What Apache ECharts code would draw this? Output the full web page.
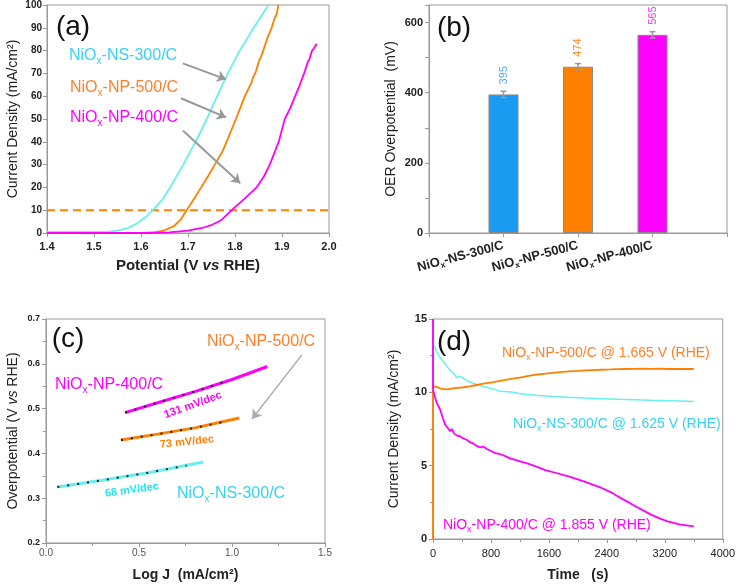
<!DOCTYPE html>
<html>
<head>
<meta charset="utf-8">
<script src="https://cdn.jsdelivr.net/npm/echarts@6.0.0/dist/echarts.min.js"></script>
<style>
html, body { margin: 0; padding: 0; background: #fff; }
#chart { width: 738px; height: 584px; }
</style>
</head>
<body>
<div id="chart"></div>
<script>
// (a) polarisation curves: [potential V vs RHE, current mA/cm2]
var lsvNS300 = [[1.40,0.5],[1.50,0.5],[1.53,0.6],[1.55,1.0],[1.57,2.0],[1.59,4.0],[1.61,7.0],[1.625,10],[1.645,14.5],[1.662,20],[1.69,30],[1.716,40],[1.74,50],[1.762,60],[1.785,70],[1.81,80],[1.84,90],[1.871,100]];
var lsvNP500 = [[1.40,0],[1.60,0],[1.63,0.4],[1.65,1.2],[1.67,3.0],[1.685,6],[1.697,10],[1.713,15],[1.728,20],[1.743,25],[1.757,30],[1.774,36],[1.782,40],[1.802,50],[1.821,60],[1.835,66],[1.838,68],[1.843,70],[1.852,76],[1.855,77],[1.86,80],[1.868,85],[1.878,90],[1.884,94],[1.889,96],[1.892,100]];
var lsvNP400 = [[1.40,0],[1.62,0],[1.66,0.3],[1.70,1.0],[1.73,2.2],[1.75,3.5],[1.77,5.5],[1.793,10],[1.82,15],[1.846,20],[1.862,25],[1.874,30],[1.893,40],[1.906,50],[1.918,55],[1.928,60],[1.938,65],[1.947,70],[1.955,75],[1.958,76],[1.964,80],[1.968,81],[1.974,83]];
var refLine = [[1.4,10],[2.0,10]];

// (b) overpotential at 10 mA/cm2
var samples = ['NS-300/C', 'NP-500/C', 'NP-400/C'];
var overpot = [395, 474, 565];
var overErr = [9, 9, 9];
var barColors = ['#1A9BF2', '#FF8000', '#FF00FF'];
var barLabelColors = ['#4AAEF2', '#FF8C2A', '#FF33FF'];

// (c) Tafel plots: [log J, overpotential V]
var tafelNP400 = [[0.425,0.491],[0.6,0.513],[0.8,0.538],[1.0,0.565],[1.19,0.594]];
var tafelNP400Pts = [[0.425,0.491],[0.6,0.513],[0.8,0.538],[0.99,0.564]];
var tafelNP500 = [[0.403,0.430],[0.6,0.443],[0.8,0.457],[1.04,0.479]];
var tafelNP500Pts = [[0.403,0.430],[0.6,0.443],[0.8,0.457],[0.95,0.470]];
var tafelNS300 = [[0.061,0.325],[0.3,0.340],[0.55,0.357],[0.846,0.381]];
var tafelNS300Pts = [[0.061,0.325],[0.3,0.340],[0.55,0.357],[0.756,0.373]];

// (d) chronoamperometry: [time s, current mA/cm2]
var caNP500 = [[0,0],[0,10.4],[60,10.35],[120,10.23],[200,10.2],[300,10.28],[400,10.33],[509,10.41],[600,10.5],[700,10.6],[830,10.7],[963,10.82],[1100,10.93],[1200,11.0],[1300,11.1],[1418,11.2],[1550,11.27],[1650,11.33],[1760,11.38],[1873,11.43],[2000,11.46],[2100,11.5],[2200,11.52],[2327,11.54],[2450,11.56],[2550,11.58],[2660,11.59],[2782,11.6],[2900,11.62],[3000,11.6],[3120,11.61],[3236,11.59],[3400,11.6],[3600,11.59]];
var caNS300 = [[0,13.3],[50,12.8],[100,12.35],[145,12.1],[220,11.6],[282,11.32],[327,11.0],[368,11.1],[420,10.95],[509,10.7],[620,10.5],[736,10.35],[850,10.2],[918,10.07],[1000,10.05],[1100,10.0],[1191,9.92],[1300,9.85],[1418,9.8],[1650,9.72],[1873,9.66],[2100,9.61],[2327,9.57],[2550,9.53],[2782,9.5],[3000,9.46],[3300,9.42],[3600,9.38]];
var caNP400 = [[0,15],[0,10.2],[20,9.8],[50,9.3],[100,8.8],[140,8.2],[168,7.8],[200,7.6],[236,7.35],[260,7.5],[290,7.2],[330,7.05],[372,7.0],[420,6.85],[470,6.75],[509,6.6],[560,6.5],[600,6.35],[650,6.25],[700,6.3],[736,6.15],[800,6.0],[860,5.85],[930,5.78],[1000,5.65],[1060,5.5],[1100,5.45],[1200,5.3],[1300,5.15],[1418,4.95],[1550,4.7],[1700,4.5],[1873,4.27],[2100,3.9],[2327,3.48],[2450,3.2],[2555,2.9],[2680,2.55],[2782,2.27],[2900,1.95],[3009,1.66],[3120,1.42],[3236,1.2],[3400,1.0],[3600,0.86]];

var FONT = 'Liberation Sans, Arial, sans-serif';
var CYAN = '#66F0F0', CYAN_T = '#36D2F0', ORANGE = '#FF8000', ORANGE_T = '#FF7F2A', MAGENTA = '#FF00FF';
var GREY = '#999999';

function subText(x, y, pre, post, color, size) {
    var s = Math.round(size * 0.62);
    return {
        type: 'text', x: x, y: y, z: 100,
        style: {
            text: '{a|' + pre + '}{s|x}{a|' + post + '}',
            verticalAlign: 'middle', align: 'left',
            rich: {
                a: {fontSize: size, fontFamily: FONT, fill: color, color: color, lineHeight: size + 4},
                s: {fontSize: s, fontFamily: FONT, fill: color, color: color, lineHeight: s, verticalAlign: 'bottom'}
            }
        }
    };
}
function plainText(x, y, txt, color, size, weight, rot) {
    return {
        type: 'text', x: x, y: y, rotation: (rot || 0) * Math.PI / 180, z: 100,
        style: {text: txt, fill: color, font: (weight || 'normal') + ' ' + size + 'px ' + FONT, align: 'center', verticalAlign: 'middle'}
    };
}

function axisBase(gi, min, max, step) {
    return {
        gridIndex: gi, type: 'value', min: min, max: max, interval: step,
        axisLine: {show: true, onZero: false, lineStyle: {color: GREY}},
        axisTick: {show: true, length: 4, lineStyle: {color: GREY}},
        splitLine: {show: false},
        nameLocation: 'middle'
    };
}

var xA = axisBase(0, 1.4, 2.0, 0.1);
xA.axisLabel = {color: '#222', fontWeight: 'bold', fontSize: 11, fontFamily: FONT, margin: 8, formatter: function (v) { return v.toFixed(1); }};
xA.name = 'Potential (V {i|vs} RHE)';
xA.nameGap = 25;
xA.nameTextStyle = {color: '#222', fontSize: 15, fontWeight: 'bold', fontFamily: FONT, rich: {i: {fontStyle: 'italic', fontWeight: 'bold', fontSize: 15, fontFamily: FONT, color: '#222'}}};

var yA = axisBase(0, 0, 100, 10);
yA.axisLabel = {color: '#222', fontWeight: 'bold', fontSize: 10, fontFamily: FONT, margin: 5};
yA.name = 'Current Density (mA/cm\u00B2)';
yA.nameGap = 27;
yA.nameTextStyle = {color: '#222', fontSize: 14, fontFamily: FONT};

var xB = axisBase(1, 0, 4, 1);
xB.axisLabel = {
    rotate: 15, margin: 12, interval: 0,
    formatter: function (v) { return (v >= 1 && v <= 3) ? '{a|NiO}{s|x}{a|-' + samples[v - 1] + '}' : ''; },
    rich: {
        a: {fontSize: 13, fontWeight: 'bold', fontFamily: FONT, color: '#222', lineHeight: 16},
        s: {fontSize: 8, fontWeight: 'bold', fontFamily: FONT, color: '#222', lineHeight: 8, verticalAlign: 'bottom'}
    }
};
var yB = axisBase(1, 0, 650, 100);
yB.axisLabel = {color: '#222', fontWeight: 'bold', fontSize: 11, fontFamily: FONT, margin: 6, formatter: function (v) { return (v % 200 === 0 && v <= 600) ? String(v) : ''; }};
yB.name = 'OER Overpotential  (mV)';
yB.nameGap = 31;
yB.nameTextStyle = {color: '#222', fontSize: 14, fontFamily: FONT};

var xC = axisBase(2, 0, 1.5, 0.5);
xC.minorTick = {show: true, splitNumber: 2, length: 3, lineStyle: {color: GREY}};
xC.axisLabel = {color: '#555', fontSize: 10, fontFamily: FONT, margin: 5, formatter: function (v) { return v.toFixed(1); }};
xC.name = 'Log J  (mA/cm\u00B2)';
xC.nameGap = 25;
xC.nameTextStyle = {color: '#222', fontSize: 14, fontWeight: 'bold', fontFamily: FONT};

var yC = axisBase(2, 0.2, 0.7, 0.1);
yC.minorTick = {show: true, splitNumber: 2, length: 3, lineStyle: {color: GREY}};
yC.axisLabel = {color: '#222', fontWeight: 'bold', fontSize: 9, fontFamily: FONT, margin: 6, formatter: function (v) { return v.toFixed(1); }};
yC.name = 'Overpotential (V {i|vs} RHE)';
yC.nameGap = 26;
yC.nameTextStyle = {color: '#222', fontSize: 14, fontFamily: FONT, rich: {i: {fontStyle: 'italic', fontSize: 14, fontFamily: FONT, color: '#222'}}};

var xD = axisBase(3, 0, 4000, 800);
xD.minorTick = {show: true, splitNumber: 2, length: 3, lineStyle: {color: GREY}};
xD.axisLabel = {color: '#222', fontSize: 11, fontFamily: FONT, margin: 9, formatter: function (v) { return String(v); }};
xD.name = 'Time   (s)';
xD.nameGap = 29;
xD.nameTextStyle = {color: '#222', fontSize: 14, fontWeight: 'bold', fontFamily: FONT};

var yD = axisBase(3, 0, 15, 5);
yD.minorTick = {show: true, splitNumber: 2, length: 3, lineStyle: {color: GREY}};
yD.axisLabel = {color: '#222', fontWeight: 'bold', fontSize: 11, fontFamily: FONT, margin: 6};
yD.name = 'Current Density (mA/cm\u00B2)';
yD.nameGap = 32;
yD.nameTextStyle = {color: '#222', fontSize: 14, fontFamily: FONT};

function line(xi, data, color, width, dash, z) {
    return {
        type: 'line', xAxisIndex: xi, yAxisIndex: xi, data: data, symbol: 'none',
        lineStyle: {color: color, width: width, type: dash || 'solid'}, z: z || 2, silent: true
    };
}
function arrow(a, b) { return [{coord: a}, {coord: b}]; }

var barData = overpot.map(function (v, i) {
    return {value: [i + 1, v], itemStyle: {color: barColors[i]}, label: {color: barLabelColors[i]}};
});
var errData = overpot.map(function (v, i) { return [i + 1, v, overErr[i]]; });

var dashed = line(0, refLine, ORANGE, 2, [8, 5], 1);
dashed.markLine = {
    silent: true, animation: false, symbol: ['none', 'arrow'], symbolSize: 9,
    lineStyle: {color: GREY, width: 2, type: 'solid'}, label: {show: false},
    data: [arrow([1.689, 74.4], [1.781, 67.4]), arrow([1.685, 59.1], [1.781, 50.7]), arrow([1.689, 45], [1.811, 21.8])]
};
var tafelArrowHost = line(2, tafelNS300, CYAN, 3, 'solid', 2);
tafelArrowHost.markLine = {
    silent: true, animation: false, symbol: ['none', 'arrow'], symbolSize: 9,
    lineStyle: {color: '#aaaaaa', width: 1.5, type: 'solid'}, label: {show: false},
    data: [arrow([1.376, 0.62], [1.108, 0.477])]
};

var option = {
    animation: false,
    backgroundColor: '#fff',
    grid: [
        {left: 47, top: 5, width: 282, height: 228, show: true, borderColor: GREY, borderWidth: 1},
        {left: 429, top: 5, width: 298, height: 228, show: true, borderColor: GREY, borderWidth: 1},
        {left: 46, top: 319, width: 279, height: 224, show: true, borderColor: GREY, borderWidth: 1},
        {left: 433, top: 319, width: 294, height: 220, show: true, borderColor: GREY, borderWidth: 1}
    ],
    xAxis: [xA, xB, xC, xD],
    yAxis: [yA, yB, yC, yD],
    series: [
        dashed,
        line(0, lsvNS300, CYAN, 1.8),
        line(0, lsvNP500, ORANGE, 1.8),
        line(0, lsvNP400, MAGENTA, 1.8),
        {
            type: 'bar', xAxisIndex: 1, yAxisIndex: 1, data: barData, barWidth: 30,
            itemStyle: {borderColor: '#888', borderWidth: 1},
            label: {show: true, position: 'top', rotate: 90, align: 'left', verticalAlign: 'middle', distance: 10, fontSize: 11, fontFamily: FONT,
                formatter: function (p) { return p.value[1]; }}
        },
        {
            type: 'custom', xAxisIndex: 1, yAxisIndex: 1, data: errData, z: 5,
            renderItem: function (params, api) {
                var x = api.value(0), v = api.value(1), e = api.value(2);
                var hi = api.coord([x, v + e]), lo = api.coord([x, v - e]);
                var st = {stroke: GREY, lineWidth: 1.5};
                return {type: 'group', children: [
                    {type: 'line', shape: {x1: hi[0], y1: hi[1], x2: lo[0], y2: lo[1]}, style: st},
                    {type: 'line', shape: {x1: hi[0] - 3, y1: hi[1], x2: hi[0] + 3, y2: hi[1]}, style: st},
                    {type: 'line', shape: {x1: lo[0] - 3, y1: lo[1], x2: lo[0] + 3, y2: lo[1]}, style: st}
                ]};
            }
        },
        line(2, tafelNP400, MAGENTA, 3),
        line(2, tafelNP500, ORANGE, 3),
        tafelArrowHost,
        line(2, tafelNP400Pts, '#222', 2, [2, 8], 4),
        line(2, tafelNP500Pts, '#222', 2, [2, 8], 4),
        line(2, tafelNS300Pts, '#222', 2, [2, 8], 4),
        line(3, caNS300, CYAN, 1.5),
        line(3, caNP500, ORANGE, 1.8),
        line(3, caNP400, MAGENTA, 1.8)
    ],
    graphic: [
        plainText(73, 27, '(a)', '#111', 28),
        plainText(454, 28, '(b)', '#111', 28),
        plainText(68, 339, '(c)', '#111', 28),
        plainText(454, 342, '(d)', '#111', 28),
        subText(69, 56, 'NiO', '-NS-300/C', CYAN_T, 16),
        subText(70, 88, 'NiO', '-NP-500/C', ORANGE_T, 16),
        subText(70, 118, 'NiO', '-NP-400/C', MAGENTA, 16),
        subText(207, 342, 'NiO', '-NP-500/C', ORANGE_T, 16),
        subText(55, 385, 'NiO', '-NP-400/C', MAGENTA, 16),
        subText(177, 494, 'NiO', '-NS-300/C', CYAN_T, 16),
        plainText(193, 405, '131 mV/dec', MAGENTA, 11, 'bold', 20),
        plainText(187, 442, '73 mV/dec', ORANGE, 11, 'bold', 6),
        plainText(132, 490, '68 mV/dec', '#22E5F0', 11, 'bold', 8),
        subText(502, 353, 'NiO', '-NP-500/C @ 1.665 V (RHE)', ORANGE_T, 14),
        subText(513, 424, 'NiO', '-NS-300/C @ 1.625 V (RHE)', CYAN_T, 14),
        subText(443, 525, 'NiO', '-NP-400/C @ 1.855 V (RHE)', MAGENTA, 14)
    ]
};

var chart = echarts.init(document.getElementById('chart'), null, {renderer: 'canvas'});
chart.setOption(option);
window.onresize = chart.resize;
</script>
</body>
</html>
